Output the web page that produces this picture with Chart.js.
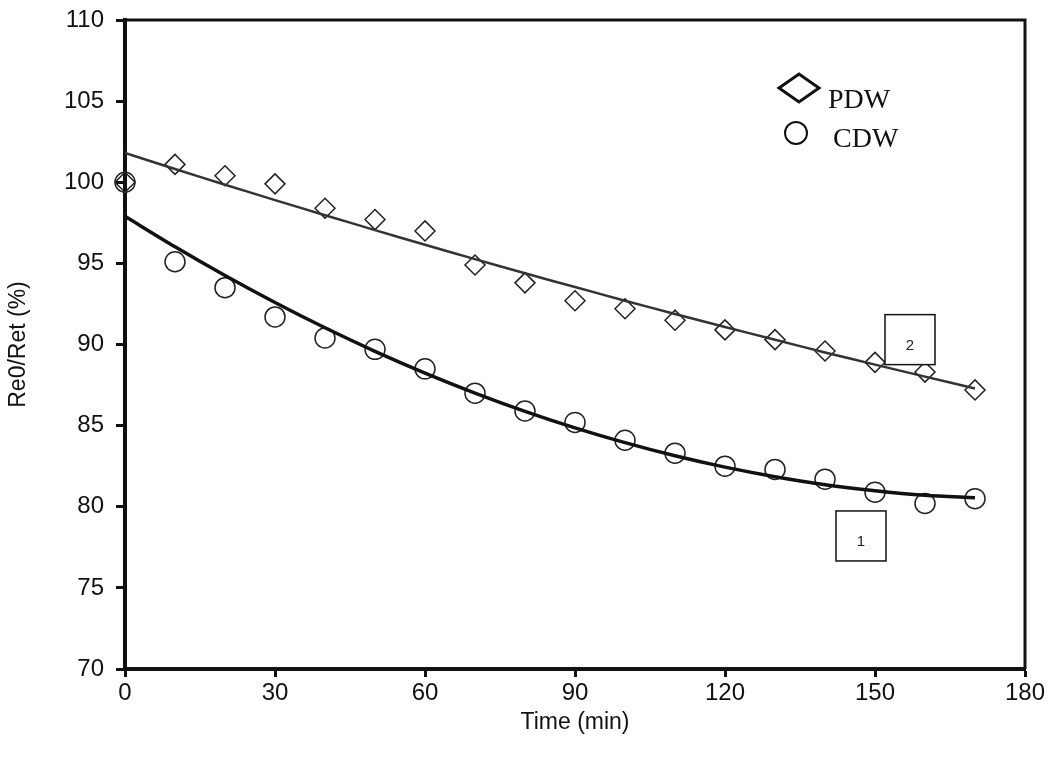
<!DOCTYPE html>
<html>
<head>
<meta charset="utf-8">
<script src="https://cdn.jsdelivr.net/npm/chart.js@4"></script>
<style>
  html, body { margin: 0; padding: 0; background: #fff; }
  #wrap { width: 1054px; height: 758px; }
</style>
</head>
<body>
<div id="wrap"><canvas id="myChart" width="1054" height="758"></canvas></div>
<script>
// measured points (min)
const times = [0, 10, 20, 30, 40, 50, 60, 70, 80, 90, 100, 110, 120, 130, 140, 150, 160, 170];
const pdw = [100, 101.1, 100.4, 99.9, 98.4, 97.7, 97.0, 94.9, 93.8, 92.7, 92.2, 91.5, 90.9, 90.3, 89.6, 88.9, 88.3, 87.2];
const cdw = [100, 95.1, 93.5, 91.7, 90.4, 89.7, 88.5, 87.0, 85.9, 85.2, 84.1, 83.3, 82.5, 82.3, 81.7, 80.9, 80.2, 80.5];

// fitted curves
const fitPdw = [101.8, 100.82, 99.85, 98.9, 97.97, 97.05, 96.15, 95.26, 94.39, 93.54, 92.7, 91.88, 91.08, 90.29, 89.51, 88.76, 88.02, 87.29];
const fitCdw = [97.9, 96.02, 94.25, 92.59, 91.03, 89.58, 88.24, 87.01, 85.88, 84.86, 83.95, 83.14, 82.44, 81.85, 81.36, 80.99, 80.71, 80.55];

const xTicks = [0, 30, 60, 90, 120, 150, 180];
const yTicks = [70, 75, 80, 85, 90, 95, 100, 105, 110];

// curve labels (boxes "1" and "2") in data units
const boxLabels = [
  { text: '2', x: 157, y: 90.3 },
  { text: '1', x: 147.2, y: 78.2 }
];

const pts = arr => times.map((t, i) => ({ x: t, y: arr[i] }));

// frame, legend and the numbered boxes
const extras = {
  id: 'extras',
  afterDraw(chart) {
    const c = chart.ctx, a = chart.chartArea;
    const xs = chart.scales.x, ys = chart.scales.y;
    c.save();
    c.strokeStyle = '#111';
    c.lineWidth = 3;
    c.beginPath();
    c.moveTo(a.left, a.top);
    c.lineTo(a.right, a.top);
    c.lineTo(a.right, a.bottom);
    c.stroke();

    // legend
    c.lineWidth = 3;
    c.beginPath();
    c.moveTo(779, 88); c.lineTo(799, 74); c.lineTo(819, 88); c.lineTo(799, 102);
    c.closePath();
    c.stroke();
    c.lineWidth = 2;
    c.beginPath();
    c.arc(796, 133, 11, 0, Math.PI * 2);
    c.stroke();
    c.fillStyle = '#111';
    c.font = '28px "Liberation Serif", serif';
    c.textBaseline = 'alphabetic';
    c.textAlign = 'left';
    c.fillText('PDW', 828, 108);
    c.fillText('CDW', 833, 147);

    // numbered boxes
    c.lineWidth = 1.5;
    c.font = '15px "Liberation Sans", Arial, sans-serif';
    c.textAlign = 'center';
    c.textBaseline = 'middle';
    boxLabels.forEach(b => {
      const px = xs.getPixelForValue(b.x), py = ys.getPixelForValue(b.y);
      c.fillStyle = '#fff';
      c.fillRect(px - 25, py - 25, 50, 50);
      c.strokeRect(px - 25, py - 25, 50, 50);
      c.fillStyle = '#222';
      c.fillText(b.text, px, py + 6);
    });
    c.restore();
  }
};

Chart.defaults.font.family = '"Liberation Sans", Arial, sans-serif';
Chart.defaults.color = '#111';

const ctx = document.getElementById('myChart');

new Chart(ctx, {
  type: 'scatter',
  data: {
    datasets: [
      {
        label: 'fit 2',
        data: pts(fitPdw),
        showLine: true,
        borderColor: '#333',
        borderWidth: 2.5,
        pointRadius: 0,
        tension: 0.3
      },
      {
        label: 'fit 1',
        data: pts(fitCdw),
        showLine: true,
        borderColor: '#111',
        borderWidth: 3.5,
        pointRadius: 0,
        tension: 0.3
      },
      {
        label: 'PDW',
        data: pts(pdw),
        pointStyle: 'rectRot',
        pointRadius: 10,
        pointBorderWidth: 1.5,
        pointBorderColor: '#222',
        pointBackgroundColor: 'rgba(255,255,255,0)',
        clip: false
      },
      {
        label: 'CDW',
        data: pts(cdw),
        pointStyle: 'circle',
        pointRadius: 10,
        pointBorderWidth: 1.5,
        pointBorderColor: '#222',
        pointBackgroundColor: 'rgba(255,255,255,0)',
        clip: false
      }
    ]
  },
  options: {
    responsive: false,
    animation: false,
    layout: { padding: { left: 5, top: 20, right: 29, bottom: 22 } },
    plugins: {
      legend: { display: false },
      tooltip: { enabled: false }
    },
    scales: {
      x: {
        type: 'linear',
        min: 0, max: 180,
        afterBuildTicks: s => { s.ticks = xTicks.map(v => ({ value: v })); },
        afterFit: s => { s.height = 67; },
        grid: { drawOnChartArea: false, drawTicks: true, tickLength: 8, tickWidth: 3, color: '#111' },
        border: { display: true, width: 4, color: '#111' },
        ticks: { font: { size: 24 }, padding: 2, maxRotation: 0 },
        title: { display: true, text: 'Time (min)', font: { size: 23 }, padding: { top: 0, bottom: 0 } }
      },
      y: {
        min: 70, max: 110,
        afterBuildTicks: s => { s.ticks = yTicks.map(v => ({ value: v })); },
        afterFit: s => { s.width = 120; s.paddingTop = 0; s.paddingBottom = 0; },
        grid: { drawOnChartArea: false, drawTicks: true, tickLength: 9, tickWidth: 3, color: '#111' },
        border: { display: true, width: 4, color: '#111' },
        ticks: { font: { size: 24 }, padding: 12 },
        title: { display: true, text: 'Re0/Ret (%)', font: { size: 23 }, padding: { top: 0, bottom: 0 } }
      }
    }
  },
  plugins: [extras]
});
</script>
</body>
</html>
